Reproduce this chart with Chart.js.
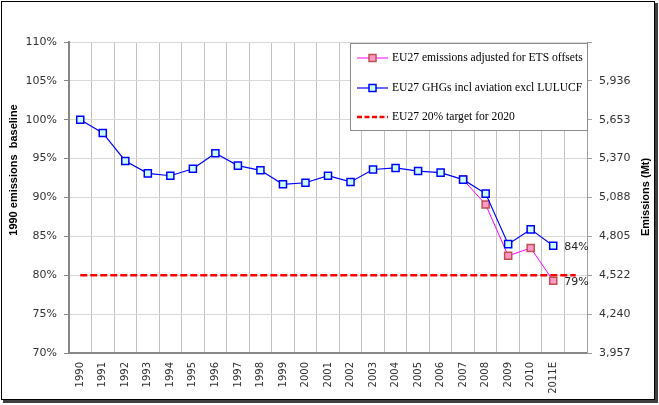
<!DOCTYPE html>
<html>
<head>
<meta charset="utf-8">
<script src="https://cdn.jsdelivr.net/npm/chart.js@4.4.1/dist/chart.umd.min.js"></script>
<style>
  html, body { margin: 0; padding: 0; background: #fff; }
</style>
</head>
<body>
<canvas id="chart" width="659" height="405"></canvas>
<script>
// -------------------- DATA --------------------
const years = ["1990", "1991", "1992", "1993", "1994", "1995", "1996", "1997", "1998", "1999",
  "2000", "2001", "2002", "2003", "2004", "2005", "2006", "2007", "2008", "2009", "2010", "2011E", ""];

// % of 1990 emissions
const ghgInclAviation = [100.0, 98.3, 94.7, 93.1, 92.8, 93.7, 95.7, 94.1, 93.5, 91.7,
  91.9, 92.8, 92.0, 93.6, 93.8, 93.4, 93.2, 92.3, 90.5, 84.0, 85.9, 83.8, null];
const adjustedForOffsets = [null, null, null, null, null, null, null, null, null, null,
  null, null, null, null, null, null, null, 92.3, 89.1, 82.5, 83.5, 79.3, null];
const target2020 = [80, 80, 80, 80, 80, 80, 80, 80, 80, 80, 80, 80,
  80, 80, 80, 80, 80, 80, 80, 80, 80, 80, 80];

const leftTicks = ["70%", "75%", "80%", "85%", "90%", "95%", "100%", "105%", "110%"];
const rightTicks = ["3,957", "4,240", "4,522", "4,805", "5,088", "5,370", "5,653", "5,936", ""];

const legendNames = ["EU27 emissions adjusted for ETS offsets",
  "EU27 GHGs incl aviation excl LULUCF",
  "EU27 20% target for 2020"];

const tickFont = { family: "DejaVu Sans", size: 11 };

// -------------------- EXTRAS (frame, titles, legend, end labels) --------------------
const frame = {
  id: "frame",
  beforeDraw(chart) {
    const c = chart.ctx;
    c.save();
    c.fillStyle = "#fff";
    c.fillRect(0, 0, chart.width, chart.height);
    c.fillStyle = "#404040";
    c.fillRect(3, 400, 655, 3);
    c.fillRect(655, 3, 3, 400);
    c.strokeStyle = "#000";
    c.lineWidth = 1;
    c.strokeRect(1.5, 1.5, 653, 398);
    c.restore();
  }
};

function sample(c, x, y, color, dash, width, fill, edge) {
  c.save();
  c.strokeStyle = color;
  c.lineWidth = width;
  c.setLineDash(dash);
  c.beginPath();
  c.moveTo(x, y);
  c.lineTo(x + 31, y);
  c.stroke();
  if (fill) {
    c.setLineDash([]);
    c.fillStyle = fill;
    c.strokeStyle = edge;
    c.lineWidth = 1.5;
    c.fillRect(x + 12, y - 3.5, 7, 7);
    c.strokeRect(x + 12, y - 3.5, 7, 7);
  }
  c.restore();
}

const extras = {
  id: "extras",
  afterDraw(chart) {
    const c = chart.ctx;
    c.save();

    // axis titles
    c.fillStyle = "#000";
    c.font = "bold 11px 'Liberation Sans'";
    c.textAlign = "center";
    c.textBaseline = "middle";
    c.save();
    c.translate(14, 170);
    c.rotate(-Math.PI / 2);
    c.fillText("1990 emissions  baseline", 0, 0);
    c.restore();
    c.save();
    c.translate(646, 197);
    c.rotate(-Math.PI / 2);
    c.fillText("Emissions (Mt)", 0, 0);
    c.restore();

    // end-of-series labels
    c.font = "11px 'DejaVu Sans'";
    c.fillStyle = "#222";
    c.textAlign = "left";
    [0, 1].forEach(i => {
      const ds = chart.data.datasets[i];
      const idx = years.indexOf("2011E");
      const pt = chart.getDatasetMeta(i).data[idx];
      c.fillText(Math.round(ds.data[idx]) + "%", pt.x + 11, pt.y + 1);
    });

    // legend box
    c.fillStyle = "#fff";
    c.fillRect(350, 43, 238, 88);
    c.strokeStyle = "#8c8c8c";
    c.lineWidth = 1;
    c.strokeRect(350.5, 43.5, 237, 87);
    const rows = [58, 88, 117];
    sample(c, 357, rows[0], "#ff00ff", [], 1, "#ff99cc", "#c0504d");
    sample(c, 357, rows[1], "#0000ff", [], 1.2, "#ccffff", "#0000ff");
    sample(c, 357, rows[2], "#ff0000", [5, 2.5], 2.5, null, null);
    c.fillStyle = "#000";
    c.font = "11.6px 'Liberation Serif'";
    c.textAlign = "left";
    legendNames.forEach((t, i) => c.fillText(t, 392, rows[i]));

    c.restore();
  }
};

// -------------------- CHART --------------------
const ctx = document.getElementById("chart").getContext("2d");

new Chart(ctx, {
  type: "line",
  data: {
    labels: years,
    datasets: [{
      label: legendNames[1],
      data: ghgInclAviation,
      borderColor: "#0000ff",
      borderWidth: 1.2,
      pointStyle: "rect",
      pointRadius: 5,
      pointBackgroundColor: "#ccffff",
      pointBorderColor: "#0000ff",
      pointBorderWidth: 1.5,
      tension: 0
    }, {
      label: legendNames[0],
      data: adjustedForOffsets,
      borderColor: "#ff00ff",
      borderWidth: 1,
      pointStyle: "rect",
      pointRadius: 5,
      pointBackgroundColor: "#ff99cc",
      pointBorderColor: "#c0504d",
      pointBorderWidth: 1.5,
      tension: 0
    }, {
      label: legendNames[2],
      data: target2020,
      borderColor: "#ff0000",
      borderWidth: 2.5,
      borderDash: [7, 3],
      pointRadius: 0,
      tension: 0
    }]
  },
  options: {
    responsive: false,
    animation: false,
    layout: { padding: { top: 42 } },
    plugins: { legend: { display: false }, tooltip: { enabled: false } },
    scales: {
      x: {
        type: "category",
        offset: true,
        grid: { offset: true, color: "#c4c4c4", drawTicks: false },
        border: { color: "#868686", width: 2 },
        ticks: {
          autoSkip: false, minRotation: 90, maxRotation: 90, padding: 9,
          color: "#333", font: { family: "DejaVu Sans", size: 10 }
        },
        afterFit: s => { s.height = 52; }
      },
      y: {
        position: "left",
        min: 70, max: 110,
        ticks: { stepSize: 5, padding: 7, color: "#333", font: tickFont,
          callback: (v, i) => leftTicks[i] },
        grid: { color: "#d9d9d9", tickLength: 5, tickColor: "#868686" },
        border: { color: "#868686", width: 2 },
        afterFit: s => { s.width = 69; }
      },
      y2: {
        position: "right",
        min: 70, max: 110,
        ticks: { stepSize: 5, padding: 7, color: "#333", font: tickFont,
          callback: (v, i) => rightTicks[i] },
        grid: { drawOnChartArea: false, tickLength: 5, tickColor: "#a0a0a0" },
        border: { color: "#a0a0a0", width: 1 },
        afterFit: s => { s.width = 72; }
      }
    }
  },
  plugins: [frame, extras]
});
</script>
</body>
</html>
